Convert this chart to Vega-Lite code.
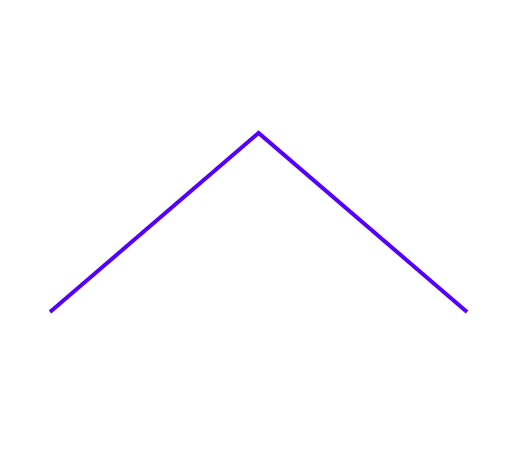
{"$schema":"https://vega.github.io/schema/vega-lite/v6.json","autosize":{"type":"fit","contains":"padding"},"width":520,"height":450,"padding":0,"config":{"view":{"stroke":null}},"data":{"values":[{"x":0,"y":0},{"x":1,"y":1},{"x":2,"y":0}]},"mark":{"type":"line","color":"#5500ff","strokeWidth":4,"clip":false},"encoding":{"x":{"field":"x","type":"quantitative","scale":{"domain":[-0.24,2.254],"nice":false,"zero":false},"axis":null},"y":{"field":"y","type":"quantitative","scale":{"domain":[-0.771,1.743],"nice":false,"zero":false},"axis":null}}}
